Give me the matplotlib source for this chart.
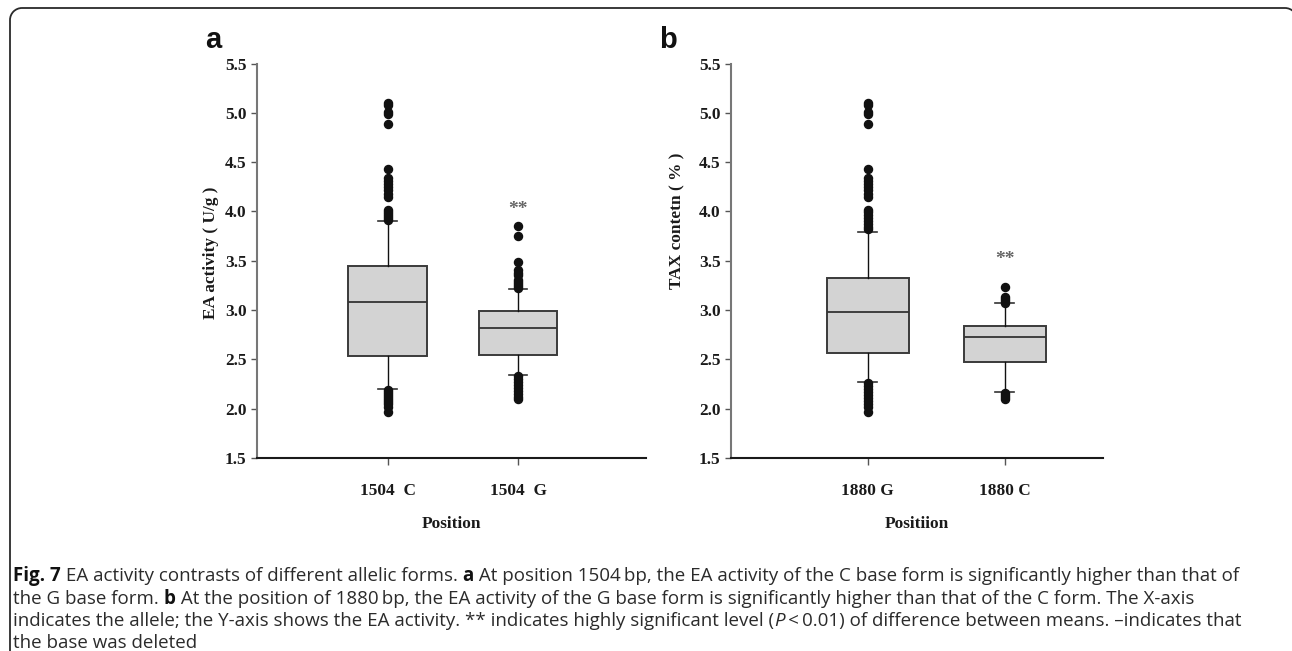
import matplotlib
matplotlib.use("Agg")
import matplotlib.pyplot as plt
from matplotlib.patches import Arc

# ---- data -------------------------------------------------------------
labels_a = ["1504  C", "1504  G"]
q1_a = [2.53, 2.54]
med_a = [3.08, 2.82]
q3_a = [3.45, 2.99]
whislo_a = [2.20, 2.34]
whishi_a = [3.90, 3.21]
fliers_a = [
    [5.10, 5.08, 5.01, 4.99, 4.89, 4.43, 4.34, 4.31, 4.28, 4.25, 4.22, 4.18, 4.15,
     4.01, 3.99, 3.97, 3.95, 3.93, 3.91,
     2.19, 2.17, 2.15, 2.13, 2.11, 2.09, 2.07, 2.05, 2.02, 1.97],
    [3.85, 3.75, 3.49, 3.41, 3.38, 3.36, 3.30, 3.28, 3.26, 3.24, 3.22,
     2.33, 2.30, 2.27, 2.24, 2.21, 2.18, 2.15, 2.12, 2.10],
]
sig_a = 4.02

labels_b = ["1880 G", "1880 C"]
q1_b = [2.56, 2.47]
med_b = [2.98, 2.73]
q3_b = [3.33, 2.84]
whislo_b = [2.27, 2.17]
whishi_b = [3.79, 3.07]
fliers_b = [
    [5.10, 5.08, 5.01, 4.99, 4.89, 4.43, 4.34, 4.31, 4.28, 4.25, 4.22, 4.18, 4.15,
     4.01, 3.99, 3.96, 3.93, 3.90, 3.87, 3.84, 3.82,
     2.26, 2.23, 2.20, 2.17, 2.14, 2.11, 2.08, 2.05, 2.02, 1.97],
    [3.23, 3.13, 3.11, 3.09, 3.07, 2.16, 2.14, 2.12, 2.10],
]
sig_b = 3.51

yticks = [1.5, 2.0, 2.5, 3.0, 3.5, 4.0, 4.5, 5.0, 5.5]

caption_lines = [
    [("Fig. 7", True, False), (" EA activity contrasts of different allelic forms. ", False, False),
     ("a", True, False),
     (" At position 1504\u2009bp, the EA activity of the C base form is significantly higher than that of", False, False)],
    [("the G base form. ", False, False), ("b", True, False),
     (" At the position of 1880\u2009bp, the EA activity of the G base form is significantly higher than that of the C form. The X-axis", False, False)],
    [("indicates the allele; the Y-axis shows the EA activity. ** indicates highly significant level (", False, False),
     ("P", False, True), ("\u2009<\u20090.01) of difference between means. \u2013indicates that", False, False)],
    [("the base was deleted", False, False)],
]

# ---- figure -----------------------------------------------------------
W, H = 1292, 651
fig = plt.figure(figsize=(W / 100, H / 100), dpi=100)
fig.patch.set_facecolor("white")

SERIF = "Liberation Serif"
CAP_FONT = ["Open Sans", "DejaVu Sans"]
FS = 12.4


def px_axes(left, right, top, bottom):
    return fig.add_axes([left / W, 1 - bottom / H, (right - left) / W, (bottom - top) / H])


def boxpanel(ax, labels, q1, med, q3, lo, hi, fliers, sig, xmax, ylabel, label_xy, xlabel):
    stats = []
    for i in range(len(labels)):
        stats.append(dict(label=labels[i], q1=q1[i], med=med[i], q3=q3[i],
                          whislo=lo[i], whishi=hi[i], fliers=fliers[i]))
    ax.bxp(stats, positions=[1, 2], widths=0.6, patch_artist=True,
           capwidths=0.14,
           boxprops=dict(facecolor="#d3d3d3", edgecolor="#3a3a3a", linewidth=1.4),
           medianprops=dict(color="#333333", linewidth=1.3),
           whiskerprops=dict(color="#111111", linewidth=1.0),
           capprops=dict(color="#333333", linewidth=1.2),
           flierprops=dict(marker="o", markersize=5.8, markerfacecolor="#111111",
                           markeredgecolor="#111111", linestyle="none"))
    ax.set_xlim(0, xmax)
    ax.set_ylim(1.5, 5.5)
    ax.set_yticks(yticks)
    ax.set_yticklabels([f"{v:.1f}" for v in yticks])
    ax.set_xticks([1, 2])
    ax.set_xticklabels(labels)
    for s in ("top", "right"):
        ax.spines[s].set_visible(False)
    ax.spines["left"].set_color("#777777")
    ax.spines["left"].set_linewidth(1.5)
    ax.spines["bottom"].set_color("#1a1a1a")
    ax.spines["bottom"].set_linewidth(1.5)
    ax.tick_params(axis="y", length=4, width=1.0, color="#555555", pad=3.5,
                   labelsize=FS, labelcolor="#1a1a1a")
    ax.tick_params(axis="x", length=5, width=1.0, color="#555555", pad=13,
                   labelsize=FS, labelcolor="#1a1a1a")
    for t in ax.get_xticklabels() + ax.get_yticklabels():
        t.set_fontfamily(SERIF)
        t.set_fontweight("bold")
    ax.set_ylabel(ylabel, fontfamily=SERIF, fontweight="bold", fontsize=FS, color="#1a1a1a")
    ax.yaxis.set_label_coords(*label_xy)
    ax.set_xlabel(xlabel, fontfamily=SERIF, fontweight="bold", fontsize=FS, color="#1a1a1a",
                  labelpad=12)
    ax.text(2, sig, "**", ha="center", va="center", fontfamily=SERIF, fontweight="bold",
            fontsize=14, color="#666666")
    ax.patch.set_alpha(0)


ax_a = px_axes(257, 646, 63.5, 458)
boxpanel(ax_a, labels_a, q1_a, med_a, q3_a, whislo_a, whishi_a, fliers_a, sig_a,
         2.98, "EA activity ( U/g )", (-0.098, 0.52), "Position")

ax_b = px_axes(731, 1103, 63.5, 458)
boxpanel(ax_b, labels_b, q1_b, med_b, q3_b, whislo_b, whishi_b, fliers_b, sig_b,
         2.72, "TAX contetn ( % )", (-0.123, 0.60), "Positiion")

# panel letters
fig.text(213 / W, 1 - 40 / H, "a", fontfamily="Liberation Sans", fontweight="bold",
         fontsize=21, ha="center", va="center", color="#111111")
fig.text(668 / W, 1 - 40 / H, "b", fontfamily="Liberation Sans", fontweight="bold",
         fontsize=21, ha="center", va="center", color="#111111")

# overlay for frame and caption, in pixel coordinates (y grows downward)
ov = fig.add_axes([0, 0, 1, 1], zorder=-1)
ov.set_xlim(0, W)
ov.set_ylim(H, 0)
ov.axis("off")
r = 12
fx0, fy0, fx1 = 10, 8, 1285
frame_kw = dict(color="#2a2a2a", linewidth=1.3, solid_capstyle="butt")
ov.plot([fx0, fx0], [fy0 + r, H + 2], **frame_kw)
ov.plot([fx0 + r, fx1], [fy0, fy0], **frame_kw)
ov.add_patch(Arc((fx0 + r, fy0 + r), 2 * r, 2 * r, theta1=180, theta2=270,
                 edgecolor="#2a2a2a", linewidth=1.3))
ov.add_patch(Arc((fx1, fy0 + r), 2 * r, 2 * r, theta1=270, theta2=360,
                 edgecolor="#2a2a2a", linewidth=1.3))

fig.canvas.draw()
renderer = fig.canvas.get_renderer()
cap_size = 13.5
baselines = [581, 603.5, 626, 648.5]
for runs, y in zip(caption_lines, baselines):
    x = 13.0
    for txt, bold, ital in runs:
        t = ov.text(x, y, txt, fontfamily=CAP_FONT, fontsize=cap_size,
                    fontweight="bold" if bold else "normal",
                    fontstyle="italic" if ital else "normal",
                    color="#111111" if bold else "#2b2b2b",
                    ha="left", va="baseline")
        bb = t.get_window_extent(renderer=renderer)
        x += bb.width

fig.savefig("out.png", dpi=100)
